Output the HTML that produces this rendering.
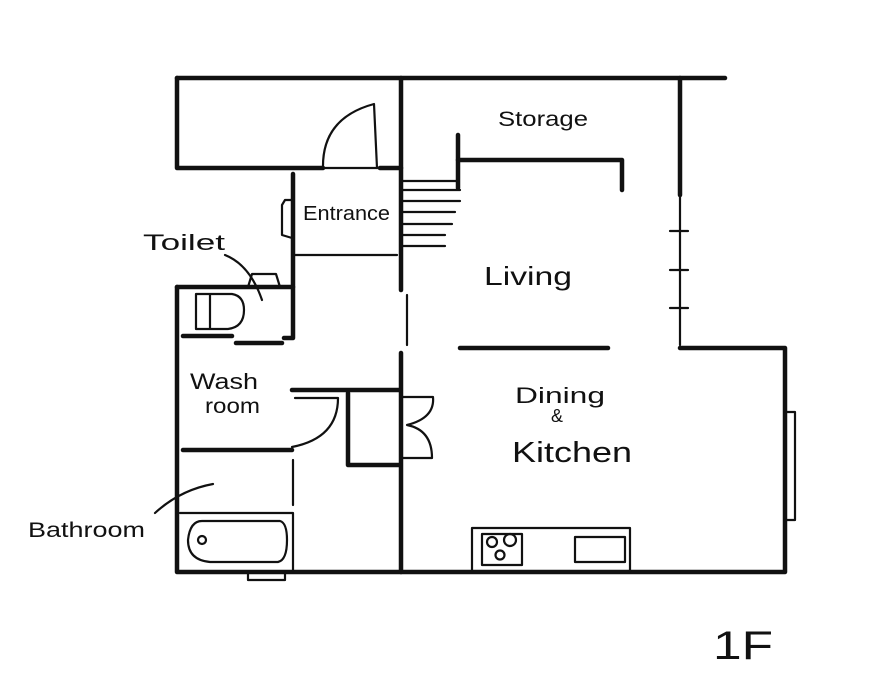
<!DOCTYPE html>
<html><head><meta charset="utf-8"><style>
html,body{margin:0;padding:0;background:#fff;}
svg{display:block;}
text{font-family:"Liberation Sans",sans-serif;fill:#111;}
</style></head><body>
<svg width="891" height="687" viewBox="0 0 891 687" xmlns="http://www.w3.org/2000/svg" stroke="#111" fill="none" stroke-linecap="round" stroke-linejoin="round">
<g stroke-width="4.5">
<path d="M177,78 H725"/>
<path d="M177,78 V168 H323"/>
<path d="M380,168 H401"/>
<path d="M401,78 V290"/>
<path d="M401,353 V572"/>
<path d="M293,174 V338 H284"/>
<path d="M177,287 V572 H785 V348 H680"/>
<path d="M177,287 H293"/>
<path d="M680,78 V195"/>
<path d="M458,135 V188"/>
<path d="M458,160 H622 V190"/>
<path d="M460,348 H608"/>
<path d="M292,390 H400"/>
<path d="M348,393 V465 H400"/>
<path d="M183,450 H292"/>
<path d="M183,336 H232"/>
<path d="M236,343 H282"/>
</g>
<g stroke-width="2.2">
<path d="M323,168 H380"/>
<path d="M295,255 H397"/>
<path d="M407,295 V345"/>
<path d="M680,195 V345"/>
<path d="M670,231 H688 M670,270 H688 M670,308 H688"/>
<path d="M403,181 H457 M403,190 H460 M403,201 H460 M403,212 H455 M403,224 H452 M403,235 H445 M403,246 H445"/>
<path d="M323,168 Q322,118 374,104 L377,168"/>
<path d="M292,200 H285 L282,205 V235 L292,238"/>
<path d="M248,287 L252,274 H276 L280,287"/>
<path d="M196,294 H232 Q244,296 244,310 Q244,327 228,329 H196 Z M210,294 V329"/>
<path d="M295,398 H338 Q338,438 292,447"/>
<path d="M403,397 H433 Q435,418 407,425 Q432,430 432,458 H403"/>
<path d="M293,460 V505"/>
<path d="M180,513 H293 V572"/>
<path d="M202,521 H280 Q287,523 287,540 Q287,560 278,562 H210 Q188,560 188,540 Q190,521 202,521 Z"/>
<circle cx="202" cy="540" r="4"/>
<path d="M248,572 V580 H285 V572"/>
<path d="M785,412 H795 V520 H785"/>
<path d="M472,572 V528 H630 V572"/>
<rect x="482" y="534" width="40" height="31"/>
<circle cx="492" cy="542" r="5"/><circle cx="510" cy="540" r="6"/><circle cx="500" cy="555" r="4.5"/>
<rect x="575" y="537" width="50" height="25"/>
<path d="M225,255 Q250,265 262,300"/>
<path d="M155,513 Q180,490 213,484"/>
</g>
<g stroke="none">
<text x="498" y="126" font-size="21" textLength="90" lengthAdjust="spacingAndGlyphs">Storage</text>
<text x="303" y="220" font-size="20" textLength="87" lengthAdjust="spacingAndGlyphs">Entrance</text>
<text x="143" y="250" font-size="22" textLength="82" lengthAdjust="spacingAndGlyphs">Toilet</text>
<text x="484" y="285" font-size="26" textLength="88" lengthAdjust="spacingAndGlyphs">Living</text>
<text x="190" y="389" font-size="22" textLength="68" lengthAdjust="spacingAndGlyphs">Wash</text>
<text x="205" y="413" font-size="21" textLength="55" lengthAdjust="spacingAndGlyphs">room</text>
<text x="515" y="403" font-size="22" textLength="90" lengthAdjust="spacingAndGlyphs">Dining</text>
<text x="551" y="422" font-size="18">&amp;</text>
<text x="512" y="462" font-size="29" textLength="120" lengthAdjust="spacingAndGlyphs">Kitchen</text>
<text x="28" y="537" font-size="21" textLength="117" lengthAdjust="spacingAndGlyphs">Bathroom</text>
<text x="713" y="659" font-size="40" textLength="60" lengthAdjust="spacingAndGlyphs">1F</text>
</g>
</svg>
</body></html>
